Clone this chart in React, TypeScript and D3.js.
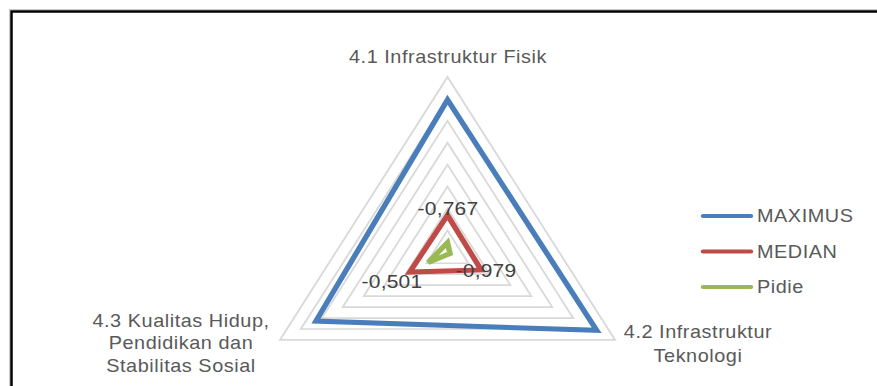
import React from "react";
import * as d3 from "d3";

const axes = ["4.1 Infrastruktur Fisik", "4.2 Infrastruktur Teknologi", "4.3 Kualitas Hidup, Pendidikan dan Stabilitas Sosial"];
const seriesNames = ["MAXIMUS", "MEDIAN", "Pidie"];
const maximus = [12.4, 12.8, 10.7];
const median = [-0.767, -0.979, -0.501];
const pidie = [-3.9, -4.7, -2.7];
const medianLabels = ["-0,767", "-0,979", "-0,501"];
const ringLevels = [-5, -2.5, 0, 2.5, 5, 7.5, 10, 12.5, 15];
const colors = ["#4a7ebb", "#be4b48", "#98b954"];

const W = 877;
const H = 386;
const SX = 1.104;
const CX = 447.5 / SX;
const CY = 252.3;
const R = 175.3;

export default function App() {
  const r = d3.scaleLinear().domain([-5, 15]).range([0, R]);
  const angle = (i: number) => (i * 2 * Math.PI) / axes.length;
  const radial = d3
    .lineRadial<number>()
    .angle((_, i) => angle(i))
    .radius((d) => r(d))
    .curve(d3.curveLinearClosed);
  const ringPath = (v: number) => radial(axes.map(() => v)) || "";
  const data = [maximus, median, pidie];

  const font = "'Liberation Sans', Arial, sans-serif";
  const textStyle = { fontFamily: font, fontSize: 18, letterSpacing: 0.5, fill: "#595959" } as const;

  const catLabels = [
    { x: 448, lines: ["4.1 Infrastruktur Fisik"], y: 63, lh: 23 },
    { x: 698, lines: ["4.2 Infrastruktur", "Teknologi"], y: 338, lh: 24 },
    { x: 181, lines: ["4.3 Kualitas Hidup,", "Pendidikan dan", "Stabilitas Sosial"], y: 327, lh: 22.5 },
  ];
  const dataLabelPos = [
    { x: 448, y: 215 },
    { x: 486, y: 277 },
    { x: 392, y: 288 },
  ];

  return (
    <svg width={W} height={H} style={{ position: "absolute", left: 0, top: 0, background: "#fff" }}>
      <rect x={0} y={0} width={W} height={H} fill="#fff" />
      <rect x={9.5} y={9.5} width={W + 20} height={H + 20} fill="none" stroke="#c8c8c8" strokeWidth={1} />
      <rect x={11.5} y={11.5} width={W + 20} height={H + 20} fill="none" stroke="#000" strokeWidth={2.5} />
      <g transform={`scale(${SX},1)`}>
        <g transform={`translate(${CX},${CY})`}>
          {ringLevels.slice(1).map((v) => (
            <path key={v} d={ringPath(v)} fill="none" stroke="#d9d9d9" strokeWidth={1.7} />
          ))}
          {data.map((s, k) => (
            <path
              key={k}
              d={radial(s) || ""}
              fill="none"
              stroke={colors[k]}
              strokeWidth={5}
              strokeLinejoin="miter"
            />
          ))}
        </g>
        {catLabels.map((c, i) => (
          <text key={i} x={c.x / SX} y={c.y} textAnchor="middle" style={textStyle}>
            {c.lines.map((l, j) => (
              <tspan key={j} x={c.x / SX} y={c.y + j * c.lh}>
                {l}
              </tspan>
            ))}
          </text>
        ))}
        {medianLabels.map((l, i) => (
          <text
            key={i}
            x={dataLabelPos[i].x / SX}
            y={dataLabelPos[i].y}
            textAnchor="middle"
            style={{ fontFamily: font, fontSize: 19, letterSpacing: 0.2, fill: "#404040" }}
          >
            {l}
          </text>
        ))}
        {seriesNames.map((n, i) => {
          const y = 216 + i * 35.5;
          return (
            <g key={n}>
              <line x1={703 / SX} x2={751 / SX} y1={y} y2={y} stroke={colors[i]} strokeWidth={4} strokeLinecap="round" />
              <text x={757 / SX} y={y + 6.5} style={textStyle}>
                {n}
              </text>
            </g>
          );
        })}
      </g>
    </svg>
  );
}
